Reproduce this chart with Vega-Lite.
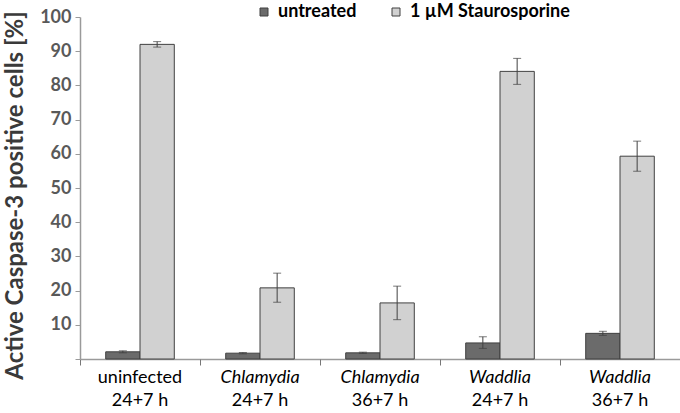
{
  "$schema": "https://vega.github.io/schema/vega-lite/v6.json",
  "autosize": "none",
  "width": 600,
  "height": 342,
  "padding": {"left": 80, "top": 17, "right": 0, "bottom": 54},
  "background": "white",
  "config": {
    "font": "Lato",
    "view": {"stroke": null},
    "axis": {"grid": false},
    "axisY": {
      "labelOverlap": false,
      "labelFontSize": 18, "labelFontWeight": "bold", "labelColor": "#595959", "labelPadding": 4,
      "tickSize": 5, "tickColor": "#9a9a9a", "domainColor": "#9a9a9a", "domainWidth": 1.5,
      "titleFontSize": 24, "titleFontWeight": "bold", "titleColor": "#3a3a3a", "titleX": -53, "titleY": 178
    }
  },
  "data": {
    "values": [
      {"group": "uninfected|24+7 h", "treatment": "untreated", "value": 2.1, "lo": 1.8, "hi": 2.4},
      {"group": "uninfected|24+7 h", "treatment": "1 µM Staurosporine", "value": 92.0, "lo": 91.2, "hi": 92.8},
      {"group": "Chlamydia|24+7 h", "treatment": "untreated", "value": 1.7, "lo": 1.5, "hi": 1.9},
      {"group": "Chlamydia|24+7 h", "treatment": "1 µM Staurosporine", "value": 20.8, "lo": 16.6, "hi": 25.1},
      {"group": "Chlamydia|36+7 h", "treatment": "untreated", "value": 1.8, "lo": 1.6, "hi": 2.0},
      {"group": "Chlamydia|36+7 h", "treatment": "1 µM Staurosporine", "value": 16.4, "lo": 11.5, "hi": 21.3},
      {"group": "Waddlia|24+7 h", "treatment": "untreated", "value": 4.7, "lo": 3.1, "hi": 6.5},
      {"group": "Waddlia|24+7 h", "treatment": "1 µM Staurosporine", "value": 84.1, "lo": 80.3, "hi": 87.9},
      {"group": "Waddlia|36+7 h", "treatment": "untreated", "value": 7.5, "lo": 6.9, "hi": 8.1},
      {"group": "Waddlia|36+7 h", "treatment": "1 µM Staurosporine", "value": 59.3, "lo": 54.9, "hi": 63.7}
    ]
  },
  "encoding": {
    "x": {"field": "group", "type": "nominal", "sort": null,
      "scale": {"paddingInner": 0, "paddingOuter": 0}},
    "xOffset": {"field": "treatment", "type": "nominal", "sort": ["untreated", "1 µM Staurosporine"],
      "scale": {"paddingInner": 0, "paddingOuter": 0.75}}
  },
  "layer": [
    {
      "mark": {"type": "bar", "stroke": "#404040", "strokeWidth": 1},
      "encoding": {
        "x": {"field": "group", "type": "nominal", "sort": null,
          "scale": {"paddingInner": 0, "paddingOuter": 0},
          "axis": {"title": null, "orient": "bottom", "labelAngle": 0, "ticks": false,
            "domainColor": "#9a9a9a", "domainWidth": 1.5,
            "labelExpr": "split(datum.value, '|')[0]",
            "labelFontSize": 18, "labelColor": "#000000", "labelPadding": 9,
            "labelFontStyle": {"condition": {"test": "indexof(datum.value, 'uninfected') < 0", "value": "italic"}, "value": "normal"}}},
        "y": {"field": "value", "type": "quantitative",
          "scale": {"domain": [0, 100]},
          "axis": {"title": "Active Caspase-3 positive cells [%]", "values": [0,10,20,30,40,50,60,70,80,90,100],
            "labelExpr": "datum.value == 0 ? '' : datum.label"}},
        "fill": {"field": "treatment", "type": "nominal", "sort": ["untreated", "1 µM Staurosporine"],
          "scale": {"range": ["#6b6b6b", "#d1d1d1"]},
          "legend": {"title": null, "orient": "none", "direction": "horizontal", "legendX": 175, "legendY": -14,
            "symbolType": "square", "symbolSize": 64, "symbolStrokeColor": "#404040", "symbolStrokeWidth": 1,
            "labelFontSize": 18, "labelFontWeight": "bold", "labelColor": "#000000", "columnPadding": 30, "labelOffset": 5}}
      }
    },
    {
      "mark": {"type": "rule", "color": "#404040", "strokeWidth": 1},
      "encoding": {
        "x": {"field": "group", "type": "nominal", "sort": null,
          "axis": {"title": null, "orient": "bottom", "labelAngle": 0, "ticks": false, "domain": false,
            "labelExpr": "split(datum.value, '|')[1]",
            "labelFontSize": 18, "labelColor": "#000000", "labelPadding": 32}},
        "y": {"field": "lo", "type": "quantitative",
          "axis": {"title": "Active Caspase-3 positive cells [%]", "values": [0,10,20,30,40,50,60,70,80,90,100],
            "labelExpr": "datum.value == 0 ? '' : datum.label"}},
        "y2": {"field": "hi"}
      }
    },
    {
      "mark": {"type": "tick", "color": "#404040", "thickness": 1, "size": 8},
      "encoding": {
        "x": {"field": "group", "type": "nominal", "sort": null,
          "axis": {"title": null, "orient": "bottom", "labels": false, "domain": false, "bandPosition": 0,
            "ticks": true, "tickSize": 6, "tickColor": "#777777", "tickWidth": 1}},
        "y": {"field": "lo", "type": "quantitative",
          "axis": {"title": "Active Caspase-3 positive cells [%]", "values": [0,10,20,30,40,50,60,70,80,90,100],
            "labelExpr": "datum.value == 0 ? '' : datum.label"}}
      }
    },
    {
      "mark": {"type": "tick", "color": "#404040", "thickness": 1, "size": 8},
      "encoding": {
        "x": {"field": "group", "type": "nominal", "sort": null, "axis": null},
        "y": {"field": "hi", "type": "quantitative",
          "axis": {"title": "Active Caspase-3 positive cells [%]", "values": [0,10,20,30,40,50,60,70,80,90,100],
            "labelExpr": "datum.value == 0 ? '' : datum.label"}}
      }
    }
  ],
  "resolve": {"axis": {"x": "independent"}}
}
